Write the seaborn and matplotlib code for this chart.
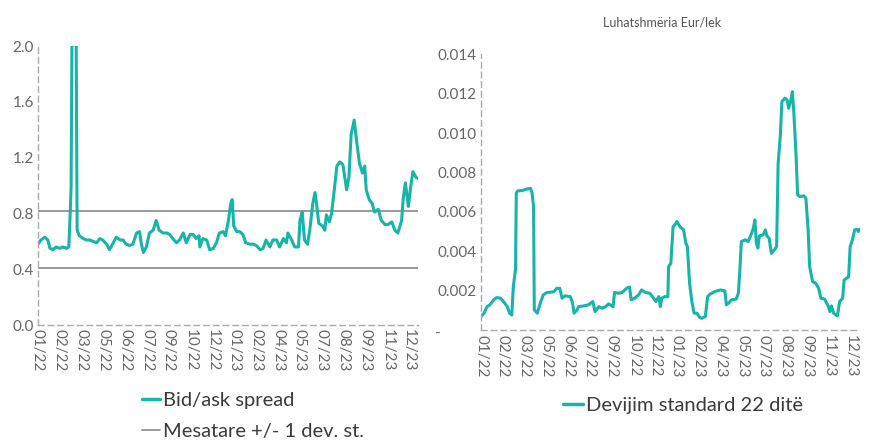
import matplotlib
matplotlib.use("Agg")
import matplotlib.pyplot as plt
import matplotlib.transforms as mtransforms
import seaborn as sns
import pandas as pd
from matplotlib.lines import Line2D

# ---------------- data ----------------
tick_labels = ["01/22", "02/22", "03/22", "05/22", "06/22", "07/22", "09/22", "10/22", "12/22",
               "01/23", "02/23", "04/23", "05/23", "07/23", "08/23", "09/23", "11/23", "12/23"]
tick_step = 29          # trading days between labelled ticks
n_days = 505

spread_day = [0, 4, 9, 13, 16, 20, 24, 29, 33, 38, 41, 43, 44, 46, 50, 52, 55, 60, 64, 69,
              73, 78, 82, 86, 91, 95, 100, 104, 109, 113, 117, 122, 126, 131, 135, 137, 140, 144, 148, 153,
              157, 161, 166, 171, 175, 179, 184, 188, 193, 197, 202, 206, 210, 214, 215, 219, 224, 228, 233, 237,
              241, 246, 249, 253, 256, 258, 260, 264, 268, 272, 276, 281, 286, 290, 295, 299, 303, 308, 312, 317,
              321, 326, 330, 332, 337, 341, 346, 348, 351, 354, 358, 361, 365, 368, 370, 373, 378, 381, 383, 387,
              390, 394, 397, 401, 405, 410, 413, 416, 420, 423, 427, 431, 434, 436, 440, 444, 447, 452, 456, 461,
              465, 470, 474, 478, 483, 485, 488, 492, 495, 498, 502, 505]
spread_val = [0.58, 0.61, 0.63, 0.61, 0.55, 0.54, 0.56, 0.55, 0.56, 0.55, 0.56, 0.83, 0.99, 2.80, 2.80, 0.68, 0.64, 0.62, 0.61, 0.61,
              0.60, 0.59, 0.62, 0.61, 0.58, 0.54, 0.59, 0.63, 0.61, 0.61, 0.58, 0.57, 0.58, 0.66, 0.67, 0.59, 0.52, 0.56, 0.66, 0.68,
              0.75, 0.68, 0.66, 0.66, 0.65, 0.62, 0.59, 0.61, 0.66, 0.59, 0.65, 0.65, 0.62, 0.64, 0.56, 0.62, 0.61, 0.54, 0.55, 0.59,
              0.66, 0.67, 0.64, 0.75, 0.87, 0.90, 0.71, 0.67, 0.67, 0.65, 0.59, 0.58, 0.58, 0.57, 0.54, 0.55, 0.61, 0.56, 0.61, 0.61,
              0.56, 0.62, 0.59, 0.66, 0.61, 0.56, 0.56, 0.75, 0.81, 0.61, 0.58, 0.68, 0.87, 0.95, 0.87, 0.73, 0.71, 0.68, 0.79, 0.74,
              0.80, 0.99, 1.14, 1.17, 1.15, 0.97, 1.06, 1.37, 1.47, 1.33, 1.16, 1.09, 1.14, 0.97, 0.90, 0.87, 0.81, 0.83, 0.75, 0.72,
              0.72, 0.74, 0.68, 0.66, 0.75, 0.90, 1.02, 0.85, 0.99, 1.10, 1.06, 1.05]
band_upper = 0.821
band_lower = 0.407

std_day = [0, 4, 8, 12, 17, 21, 26, 30, 35, 38, 41, 43, 46, 47, 49, 55, 61, 66, 68, 70,
           71, 75, 79, 83, 88, 97, 101, 105, 108, 112, 119, 122, 124, 128, 130, 137, 143, 149, 152, 157,
           161, 166, 170, 176, 178, 183, 188, 194, 198, 200, 205, 210, 214, 219, 225, 230, 233, 237, 239, 241,
           245, 249, 250, 253, 256, 259, 261, 265, 270, 273, 275, 278, 281, 284, 288, 291, 294, 299, 302, 305,
           312, 319, 325, 327, 330, 334, 340, 343, 345, 347, 352, 356, 359, 363, 365, 367, 369, 371, 376, 379,
           381, 384, 387, 391, 394, 396, 399, 401, 405, 408, 410, 413, 415, 417, 420, 422, 425, 430, 433, 436,
           438, 442, 446, 450, 453, 458, 463, 465, 467, 470, 475, 478, 482, 484, 490, 492, 495, 498, 501, 503, 505]
std_val = [0.00070, 0.00087, 0.00120, 0.00130, 0.00155, 0.00166, 0.00163, 0.00146, 0.00120, 0.00087, 0.00078, 0.00220, 0.00310, 0.00696, 0.00707, 0.00709, 0.00716, 0.00720, 0.00696, 0.00630,
           0.00104, 0.00087, 0.00138, 0.00180, 0.00192, 0.00195, 0.00213, 0.00213, 0.00163, 0.00175, 0.00171, 0.00138, 0.00087, 0.00104, 0.00120, 0.00124, 0.00129, 0.00146, 0.00095, 0.00120,
           0.00112, 0.00120, 0.00134, 0.00120, 0.00192, 0.00188, 0.00192, 0.00213, 0.00220, 0.00155, 0.00163, 0.00180, 0.00205, 0.00192, 0.00188, 0.00163, 0.00146, 0.00171, 0.00120, 0.00163,
           0.00171, 0.00171, 0.00323, 0.00340, 0.00526, 0.00538, 0.00552, 0.00526, 0.00509, 0.00442, 0.00425, 0.00239, 0.00146, 0.00087, 0.00087, 0.00067, 0.00061, 0.00070, 0.00171, 0.00183,
           0.00197, 0.00205, 0.00200, 0.00129, 0.00138, 0.00155, 0.00158, 0.00188, 0.00307, 0.00450, 0.00459, 0.00450, 0.00476, 0.00518, 0.00560, 0.00442, 0.00417, 0.00479, 0.00484, 0.00509,
           0.00479, 0.00467, 0.00390, 0.00408, 0.00425, 0.00847, 0.00990, 0.01160, 0.01177, 0.01168, 0.01126, 0.01168, 0.01210, 0.01100, 0.00880, 0.00687, 0.00678, 0.00682, 0.00670, 0.00509,
           0.00323, 0.00247, 0.00239, 0.00213, 0.00163, 0.00158, 0.00120, 0.00095, 0.00124, 0.00087, 0.00073, 0.00146, 0.00163, 0.00255, 0.00272, 0.00425, 0.00459, 0.00509, 0.00513, 0.00501, 0.00513]

left_yticks = [0.0, 0.4, 0.8, 1.2, 1.6, 2.0]
right_yticks = [0.0, 0.002, 0.004, 0.006, 0.008, 0.010, 0.012, 0.014]
right_ylabels = ["-", "0.002", "0.004", "0.006", "0.008", "0.010", "0.012", "0.014"]

# ---------------- style ----------------
sns.set_theme(style="white")
plt.rcParams['font.family'] = ['Lato', 'DejaVu Sans']

TEAL = "#17B5A8"
GREY = "#9a9a9a"
TXT = "#666666"

df_spread = pd.DataFrame({"day": spread_day, "value": spread_val})
df_std = pd.DataFrame({"day": std_day, "value": std_val})

fig = plt.figure(figsize=(8.73, 4.44), dpi=100)
ax1 = fig.add_axes([0.0435, 0.268, 0.4355, 0.628])
ax2 = fig.add_axes([0.551, 0.256, 0.434, 0.622])

xt = [i * tick_step for i in range(len(tick_labels))]

def style_axis(ax):
    for s in ["top", "right"]:
        ax.spines[s].set_visible(False)
    for s in ["left", "bottom"]:
        ax.spines[s].set_linestyle((0, (4, 3)))
        ax.spines[s].set_color("#aaaaaa")
        ax.spines[s].set_linewidth(1.0)
    ax.set_xlim(0, n_days)
    ax.set_xticks(xt)
    ax.set_xticklabels(tick_labels, rotation=-90, fontsize=11, color=TXT)
    ax.tick_params(axis="x", length=0, pad=3)
    ax.tick_params(axis="y", length=0, pad=3, labelsize=11, labelcolor=TXT)
    ax.set_xlabel("")
    ax.set_ylabel("")
    ax.grid(False)

# Left panel
sns.lineplot(data=df_spread, x="day", y="value", ax=ax1, color=TEAL, linewidth=2.2)
ax1.axhline(band_upper, color=GREY, linewidth=1.4, zorder=1)
ax1.axhline(band_lower, color=GREY, linewidth=1.4, zorder=1)
ax1.set_ylim(0, 2.0)
ax1.set_yticks(left_yticks)
ax1.set_yticklabels([f"{v:.1f}" for v in left_yticks])
style_axis(ax1)

h1 = [Line2D([], [], color=TEAL, linewidth=2.5), Line2D([], [], color=GREY, linewidth=1.4)]
fig.legend(h1, ["Bid/ask spread", "Mesatare +/- 1 dev. st."], loc="upper left",
           bbox_to_anchor=(0.163, 0.118), frameon=False, fontsize=14.5,
           handlelength=0.9, handletextpad=0.12, labelspacing=0.72, borderaxespad=0,
           borderpad=0, labelcolor="#3a3a3a")

# Right panel
sns.lineplot(data=df_std, x="day", y="value", ax=ax2, color=TEAL, linewidth=2.2)
ax2.set_ylim(0, 0.014)
ax2.set_yticks(right_yticks)
ax2.set_yticklabels(right_ylabels)
style_axis(ax2)
# zero label "-" sits at the left edge of the label column
zero_lbl = ax2.get_yticklabels()[0]
zero_lbl.set_transform(zero_lbl.get_transform() +
                       mtransforms.ScaledTranslation(-0.36, -0.02, fig.dpi_scale_trans))

h2 = [Line2D([], [], color=TEAL, linewidth=2.5)]
fig.legend(h2, ["Devijim standard 22 ditë"], loc="upper left",
           bbox_to_anchor=(0.645, 0.105), frameon=False, fontsize=14.5,
           handlelength=1.0, handletextpad=0.12, borderaxespad=0, borderpad=0,
           labelcolor="#3a3a3a")

fig.text(0.758, 0.95, "Luhatshmëria Eur/lek", fontsize=9, color="#555555", ha="center", va="center")

fig.savefig("out.png", dpi=100)
